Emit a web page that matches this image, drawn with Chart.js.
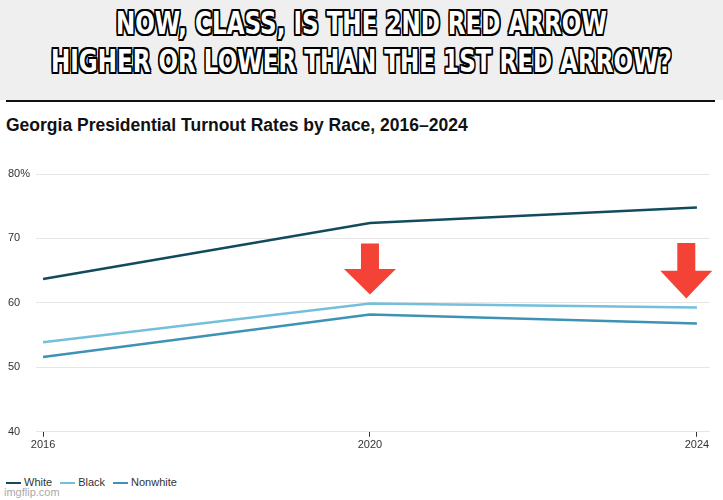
<!DOCTYPE html>
<html>
<head>
<meta charset="utf-8">
<script src="https://cdn.jsdelivr.net/npm/chart.js@4"></script>
<style>
  body { margin: 0; width: 723px; height: 500px; background: #fff; position: relative; overflow: hidden; font-family: "Liberation Sans", Arial, sans-serif; }
  #top { position: absolute; left: 0; top: 0; width: 723px; height: 100px; background: #efefef; }
  #caption { position: absolute; left: -200px; top: 4px; width: 1123px; text-align: center; color: #fff; white-space: nowrap;
    font-family: "DejaVu Sans", sans-serif; font-weight: bold; font-size: 32px; line-height: 38px;
    transform: scaleX(0.72); transform-origin: 561px 0;
    text-shadow: -2px -2px 0 #000, 2px -2px 0 #000, -2px 2px 0 #000, 2px 2px 0 #000, 0 2px 0 #000, 0 -2px 0 #000, 2px 0 0 #000, -2px 0 0 #000; }
  #rule { position: absolute; left: 6px; top: 100px; width: 709px; height: 2px; background: #111; }
  #title { position: absolute; left: 6px; top: 115px; font-size: 17.5px; font-weight: bold; color: #111; }
  #wrap { position: absolute; left: 0; top: 150px; width: 723px; height: 304px; }
  #legend { position: absolute; left: 6px; top: 476px; font-size: 11px; color: #333; }
  #legend span.sw { display: inline-block; width: 15px; height: 2px; vertical-align: middle; margin-right: 3px; }
  #legend span.it { margin-right: 8px; }
  #wm { position: absolute; left: 4px; top: 486px; font-size: 11px; color: #aaa; }
</style>
</head>
<body>
<div id="top"></div>
<div id="caption">NOW, CLASS, IS THE 2ND RED ARROW<br>HIGHER OR LOWER THAN THE 1ST RED ARROW?</div>
<div id="rule"></div>
<div id="title">Georgia Presidential Turnout Rates by Race, 2016–2024</div>
<div id="wrap"><canvas id="chart"></canvas></div>
<div id="legend"></div>
<div id="wm">imgflip.com</div>
<script>
var years = [2016, 2020, 2024];
var white = [63.7, 72.4, 74.8];
var black = [53.9, 59.9, 59.3];
var nonwhite = [51.6, 58.2, 56.8];
var yTicks = [40, 50, 60, 70, 80];
var seriesNames = ["White", "Black", "Nonwhite"];
var seriesColors = ["#124b5e", "#74bfdc", "#3d93b5"];
// arrows: [year, top value, tip value]
var arrows = [[2020, 69.2, 61.3], [2023.87, 69.3, 60.7]];

function toPoints(vals) {
  return years.map(function(y, i) { return { x: y, y: vals[i] }; });
}

var legendHtml = "";
for (var i = 0; i < seriesNames.length; i++) {
  legendHtml += '<span class="it"><span class="sw" style="background:' + seriesColors[i] + '"></span>' + seriesNames[i] + '</span>';
}
document.getElementById("legend").innerHTML = legendHtml;

var arrowPlugin = {
  id: "arrows",
  afterDatasetsDraw: function(chart) {
    var ctx = chart.ctx;
    var xs = chart.scales.x, ys = chart.scales.y;
    ctx.save();
    ctx.fillStyle = "#f44336";
    arrows.forEach(function(a) {
      var cx = xs.getPixelForValue(a[0]);
      var top = ys.getPixelForValue(a[1]);
      var tip = ys.getPixelForValue(a[2]);
      var head = (tip - top) * 0.5;
      ctx.beginPath();
      ctx.moveTo(cx - 9, top);
      ctx.lineTo(cx + 9, top);
      ctx.lineTo(cx + 9, tip - head);
      ctx.lineTo(cx + 26, tip - head);
      ctx.lineTo(cx, tip);
      ctx.lineTo(cx - 26, tip - head);
      ctx.lineTo(cx - 9, tip - head);
      ctx.closePath();
      ctx.fill();
    });
    ctx.restore();
  }
};

var ctx = document.getElementById("chart").getContext("2d");
var chart = new Chart(ctx, {
  type: "line",
  data: {
    datasets: [
      { label: "White", data: toPoints(white), borderColor: seriesColors[0], borderWidth: 2.5, pointRadius: 0, tension: 0 },
      { label: "Black", data: toPoints(black), borderColor: seriesColors[1], borderWidth: 2.5, pointRadius: 0, tension: 0 },
      { label: "Nonwhite", data: toPoints(nonwhite), borderColor: seriesColors[2], borderWidth: 2.5, pointRadius: 0, tension: 0 }
    ]
  },
  options: {
    responsive: true,
    maintainAspectRatio: false,
    animation: false,
    layout: { padding: { left: 8, right: 13, top: 24, bottom: 0 } },
    plugins: { legend: { display: false }, tooltip: { enabled: false } },
    scales: {
      x: {
        type: "linear",
        min: 2015.914,
        max: 2024.16,
        afterBuildTicks: function(axis) { axis.ticks = years.map(function(v) { return { value: v }; }); },
        grid: { drawOnChartArea: false, tickLength: 5, color: "#333" },
        border: { display: false },
        ticks: { color: "#333", font: { size: 11 }, callback: function(v) { return String(v); }, padding: 2 }
      },
      y: {
        min: 40,
        max: 80,
        afterBuildTicks: function(axis) { axis.ticks = yTicks.map(function(v) { return { value: v }; }); },
        afterFit: function(axis) { axis.width = 28; },
        grid: { color: "#e6e6e6", drawTicks: false },
        border: { display: false },
        ticks: { color: "#333", font: { size: 11 }, crossAlign: "far", padding: 6,
          callback: function(v) { return v === 80 ? "80%" : String(v); } }
      }
    }
  },
  plugins: [arrowPlugin]
});
</script>
</body>
</html>
